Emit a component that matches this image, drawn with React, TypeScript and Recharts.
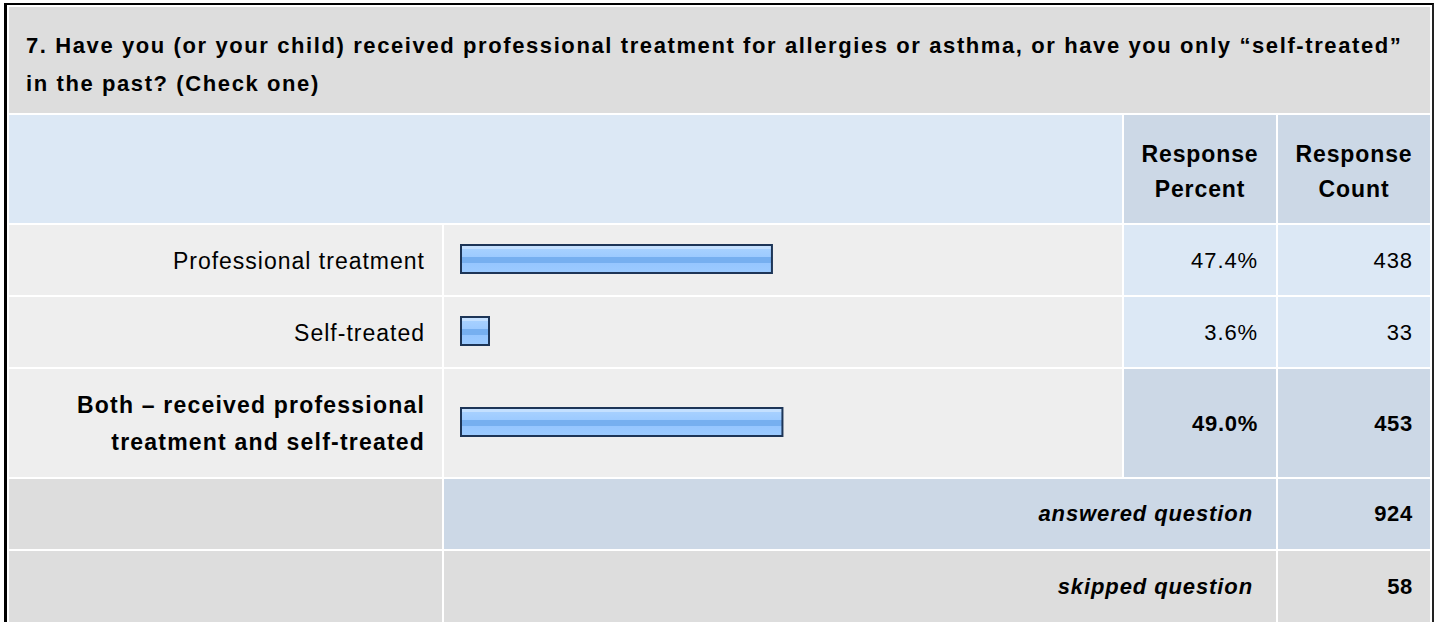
import { BarChart, Bar, XAxis, YAxis } from "recharts";

const QUESTION_LINES = [
  "7. Have you (or your child) received professional treatment for allergies or asthma, or have you only “self-treated”",
  "in the past? (Check one)",
];
const COLUMN_HEADS = ["Response\nPercent", "Response\nCount"];
const ANSWERS = [
  "Professional treatment",
  "Self-treated",
  "Both – received professional\ntreatment and self-treated",
];
const PERCENTS = [47.4, 3.6, 49.0];
const COUNTS = [438, 33, 453];
const HIGHLIGHT = [false, false, true];
const ANSWERED = 924;
const SKIPPED = 58;

const FONT = "Arial, 'Liberation Sans', Helvetica, sans-serif";
const GREY = "#dddddd";
const LIGHT = "#eeeeee";
const BLUE = "#dce8f5";
const BLUE_DARK = "#ccd8e6";

// cell grid (page px)
const COL_X = [9, 444, 1124, 1278];
const COL_W = [433, 678, 152, 152];
const ROW_Y = [7, 115, 225, 297, 369, 479, 551];
const ROW_H = [106, 108, 70, 70, 108, 70, 71];

type CellProps = {
  col: number;
  row: number;
  span?: number;
  bg: string;
  align?: "left" | "right" | "center";
  children?: React.ReactNode;
  style?: React.CSSProperties;
};

function Cell({ col, row, span = 1, bg, align = "right", children, style }: CellProps) {
  const w = COL_X[col + span - 1] + COL_W[col + span - 1] - COL_X[col];
  return (
    <div
      style={{
        position: "absolute",
        left: COL_X[col],
        top: ROW_Y[row],
        width: w,
        height: ROW_H[row],
        background: bg,
        display: "flex",
        alignItems: "center",
        justifyContent: align === "left" ? "flex-start" : align === "center" ? "center" : "flex-end",
        boxSizing: "border-box",
        padding: "0 17px",
        textAlign: align,
        whiteSpace: "pre-line",
        color: "#000",
        ...style,
      }}
    >
      {children}
    </div>
  );
}

function RowBar({ index, height, bottom }: { index: number; height: number; bottom: number }) {
  const data = [{ name: ANSWERS[index], value: PERCENTS[index] }];
  const gid = `barFill${index}`;
  return (
    <BarChart
      width={COL_W[1]}
      height={height}
      data={data}
      layout="vertical"
      margin={{ top: 0, right: 5, bottom, left: 17 }}
    >
      <defs>
        <linearGradient id={gid} x1="0" y1="0" x2="0" y2="1">
          <stop offset="0%" stopColor="#c4e0ff" />
          <stop offset="16%" stopColor="#c4e0ff" />
          <stop offset="16%" stopColor="#a6d0ff" />
          <stop offset="44%" stopColor="#9ccaff" />
          <stop offset="44%" stopColor="#76aff0" />
          <stop offset="66%" stopColor="#76aff0" />
          <stop offset="66%" stopColor="#96c6ff" />
          <stop offset="100%" stopColor="#9ccbff" />
        </linearGradient>
      </defs>
      <XAxis type="number" domain={[0, 100]} hide />
      <YAxis type="category" dataKey="name" hide />
      <Bar
        dataKey="value"
        fill={`url(#${gid})`}
        stroke="#1d3557"
        strokeWidth={2}
        barSize={28}
        minPointSize={28}
        isAnimationActive={false}
      />
    </BarChart>
  );
}

export default function App() {
  const bold = { fontWeight: 700 } as React.CSSProperties;
  return (
    <div style={{ position: "relative", width: 1434, height: 622, overflow: "hidden", fontFamily: FONT, background: "#fff" }}>
      <style>{`body{margin:0}`}</style>
      {/* outer frame */}
      <div
        style={{
          position: "absolute",
          left: 4,
          top: 3,
          width: 1430,
          height: 640,
          boxSizing: "border-box",
          borderTop: "2px solid #000",
          borderLeft: "3px solid #000",
          borderRight: "2px solid #222",
        }}
      />

      {/* question title */}
      <Cell col={0} row={0} span={4} bg={GREY} align="left" style={{ ...bold, fontSize: 22, letterSpacing: 1.6, lineHeight: "38px", paddingTop: 10 }}>
        {QUESTION_LINES.join("\n")}
      </Cell>

      {/* column heads */}
      <Cell col={0} row={1} span={2} bg={BLUE} />
      {COLUMN_HEADS.map((h, i) => (
        <Cell key={h + i} col={2 + i} row={1} bg={BLUE_DARK} align="center" style={{ ...bold, fontSize: 23, letterSpacing: 0.9, lineHeight: "35px", padding: "6px 0 0" }}>
          {h}
        </Cell>
      ))}

      {/* answer rows */}
      {ANSWERS.map((a, i) => {
        const row = 2 + i;
        const hl = HIGHLIGHT[i];
        const label: React.CSSProperties = {
          fontSize: 23,
          letterSpacing: hl ? 1.2 : 1.0,
          fontWeight: hl ? 700 : 400,
          lineHeight: "37px",
          paddingTop: 2,
        };
        const num: React.CSSProperties = {
          fontSize: 22,
          letterSpacing: hl ? 0.7 : 0.9,
          fontWeight: hl ? 700 : 400,
          paddingTop: 2,
        };
        return (
          <div key={a}>
            <Cell col={0} row={row} bg={LIGHT} style={label}>
              {a}
            </Cell>
            <div style={{ position: "absolute", left: COL_X[1], top: ROW_Y[row], width: COL_W[1], height: ROW_H[row], background: LIGHT }}>
              <RowBar index={i} height={ROW_H[row]} bottom={hl ? 3 : 2} />
            </div>
            <Cell col={2} row={row} bg={hl ? BLUE_DARK : BLUE} style={{ ...num, paddingRight: 18 }}>
              {PERCENTS[i].toFixed(1) + "%"}
            </Cell>
            <Cell col={3} row={row} bg={hl ? BLUE_DARK : BLUE} style={num}>
              {String(COUNTS[i])}
            </Cell>
          </div>
        );
      })}

      {/* totals */}
      <Cell col={0} row={5} bg={GREY} />
      <Cell col={1} row={5} span={2} bg={BLUE_DARK} style={{ ...bold, fontStyle: "italic", fontSize: 22, letterSpacing: 0.9, paddingRight: 23 }}>
        answered question
      </Cell>
      <Cell col={3} row={5} bg={BLUE_DARK} style={{ ...bold, fontSize: 22, letterSpacing: 0.7 }}>
        {String(ANSWERED)}
      </Cell>
      <Cell col={0} row={6} bg={GREY} />
      <Cell col={1} row={6} span={2} bg={GREY} style={{ ...bold, fontStyle: "italic", fontSize: 22, letterSpacing: 0.9, paddingRight: 23 }}>
        skipped question
      </Cell>
      <Cell col={3} row={6} bg={GREY} style={{ ...bold, fontSize: 22, letterSpacing: 0.7 }}>
        {String(SKIPPED)}
      </Cell>
    </div>
  );
}
